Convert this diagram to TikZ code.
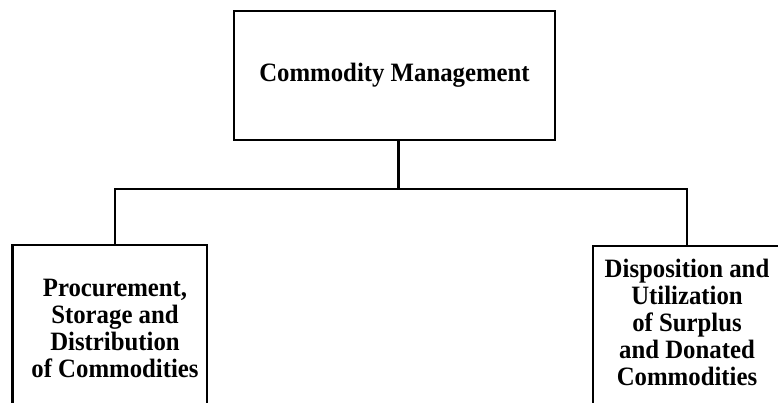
\documentclass[tikz,border=0pt]{standalone}
\usepackage{fontspec}
\setmainfont{Liberation Serif}[FakeStretch=0.935]
\begin{document}
\begin{tikzpicture}[x=1pt,y=-1pt,
  chartline/.style={line width=2.2pt,line cap=rect,line join=miter},
  chartbox/.style={draw,chartline,rectangle,inner sep=0pt,outer sep=0pt},
  charttext/.style={font=\bfseries\fontsize{26.5}{27}\selectfont,align=center,inner sep=0pt}]
  \useasboundingbox (0,0) rectangle (778,402);
  \clip (0,0) rectangle (778,402);

  % head of the chart
  \node[chartbox,charttext,minimum width=321pt,minimum height=129pt,anchor=north west]
    (mgmt) at (234,11) {Commodity Management};

  % the two divisions (their lower parts run off the page)
  \node[chartbox,minimum width=194.5pt,minimum height=180pt,anchor=north west]
    (procbox) at (12.5,245) {};
  \node[chartbox,minimum width=220pt,minimum height=180pt,anchor=north west]
    (dispbox) at (593,246) {};

  \node[charttext,anchor=north] (proctext) at (115,279)
    {Procurement,\\Storage and\\Distribution\\of Commodities};
  \node[charttext,anchor=north] (disptext) at (687,259)
    {Disposition and\\Utilization\\of Surplus\\and Donated\\Commodities};

  % branching connector
  \coordinate (hub) at (398.5,189);
  \coordinate (lb) at (115,189);
  \coordinate (rb) at (687,189);
  \draw[chartline] (mgmt.south -| hub) -- (hub);
  \draw[chartline] (procbox.north -| lb) -- (lb) -- (rb) -- (dispbox.north -| rb);
\end{tikzpicture}
\end{document}
